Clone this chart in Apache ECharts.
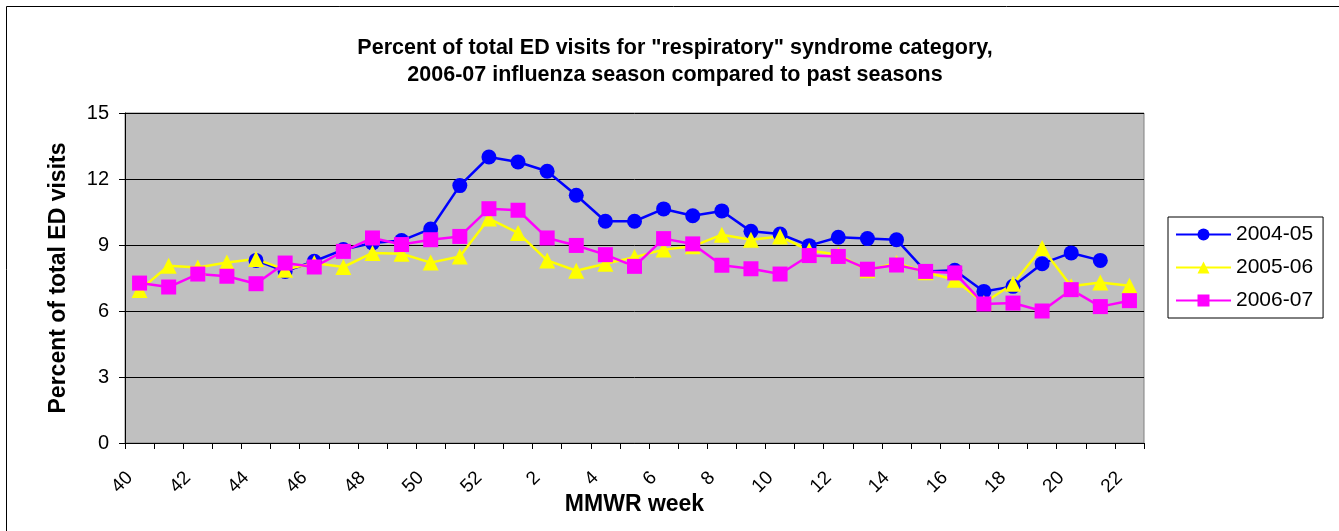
<!DOCTYPE html>
<html>
<head>
<meta charset="utf-8">
<script src="https://cdn.jsdelivr.net/npm/echarts@6/dist/echarts.min.js"></script>
<style>
  html, body { margin: 0; padding: 0; background: #fff; }
  #chart { width: 1339px; height: 531px; }
</style>
</head>
<body>
<div id="chart"></div>
<script>
// MMWR weeks, 40..52 then 1..22
const weeks = ['40','41','42','43','44','45','46','47','48','49','50','51','52',
  '1','2','3','4','5','6','7','8','9','10','11','12','13','14','15','16','17','18','19','20','21','22']

// 2004-05 not visible before week 44 or at week 22
const s0405 = [null, null, null, null, 8.3, 7.8, 8.26, 8.79, 9.09, 9.2, 9.73, 11.7, 13.0,
  12.77, 12.35, 11.26, 10.08, 10.08, 10.64, 10.33, 10.55, 9.62, 9.5, 8.97, 9.35, 9.29, 9.24,
  7.8, 7.85, 6.89, 7.12, 8.15, 8.64, 8.3, null]

const s0506 = [6.95, 8.06, 7.98, 8.2, 8.36, 7.88, 8.18, 8.0, 8.64, 8.6, 8.2, 8.48, 10.2,
  9.55, 8.3, 7.83, 8.15, 8.45, 8.79, 8.94, 9.47, 9.24, 9.39, 8.75, 8.56, 7.85, 8.18,
  7.76, 7.42, 6.36, 7.24, 8.86, 7.12, 7.3, 7.15]

const s0607 = [7.27, 7.09, 7.68, 7.58, 7.24, 8.18, 8.0, 8.71, 9.32, 9.02, 9.24, 9.39, 10.65,
  10.58, 9.32, 8.98, 8.56, 8.03, 9.29, 9.05, 8.08, 7.92, 7.68, 8.52, 8.48, 7.9, 8.09,
  7.8, 7.73, 6.32, 6.36, 6.0, 6.97, 6.2, 6.47]

const seriesNames = ['2004-05', '2005-06', '2006-07']

const font = 'Liberation Sans, Arial, sans-serif'

function lineSeries(name, data, color, symbol, size) {
  return {
    name: name,
    type: 'line',
    data: data,
    symbol: symbol,
    symbolSize: size,
    showAllSymbol: true,
    connectNulls: false,
    lineStyle: { color: color, width: 2.5 },
    itemStyle: { color: color },
    emphasis: { disabled: true },
    animation: false
  }
}

const myChart = echarts.init(document.getElementById('chart'))
myChart.setOption({
  animation: false,
  title: {
    text: 'Percent of total ED visits for "respiratory" syndrome category,\n2006-07 influenza season compared to past seasons',
    left: 675,
    top: 35,
    padding: 0,
    textAlign: 'center',
    textStyle: { fontFamily: font, fontSize: 21.5, fontWeight: 'bold', color: '#000', lineHeight: 27 }
  },
  graphic: [{
    type: 'rect',
    shape: { x: 6.5, y: 6.5, width: 1400, height: 600 },
    style: { fill: 'none', stroke: '#000', lineWidth: 1 },
    silent: true
  }],
  legend: {
    orient: 'vertical',
    left: 1168,
    top: 217,
    padding: [7, 10, 7, 7],
    itemGap: 12,
    itemWidth: 55,
    itemHeight: 15,
    backgroundColor: '#fff',
    borderColor: '#000',
    borderWidth: 1,
    borderRadius: 0,
    data: seriesNames,
    textStyle: { fontFamily: font, fontSize: 21, color: '#000', padding: [0, 0, 0, 0] }
  },
  grid: {
    left: 125,
    right: 195,
    top: 113,
    bottom: 88,
    show: true,
    backgroundColor: '#C0C0C0',
    borderColor: '#808080',
    borderWidth: 1
  },
  xAxis: {
    type: 'category',
    data: weeks,
    boundaryGap: true,
    name: 'MMWR week',
    nameLocation: 'middle',
    nameGap: 50,
    nameMoveOverlap: false,
    nameTextStyle: { fontFamily: font, fontSize: 23, fontWeight: 'bold', color: '#000' },
    axisLine: { lineStyle: { color: '#000', width: 1 } },
    axisTick: { show: true, interval: 0, length: 6, lineStyle: { color: '#000' } },
    axisLabel: {
      interval: 1,
      rotate: 45,
      margin: 22,
      padding: [0, 14, 0, 0],
      fontFamily: font,
      fontSize: 19,
      color: '#000'
    },
    splitLine: { show: false }
  },
  yAxis: {
    type: 'value',
    min: 0,
    max: 15,
    interval: 3,
    name: 'Percent of total ED visits',
    nameLocation: 'middle',
    nameGap: 55,
    nameMoveOverlap: false,
    nameTextStyle: { fontFamily: font, fontSize: 23, fontWeight: 'bold', color: '#000' },
    axisLine: { show: true, lineStyle: { color: '#000', width: 1 } },
    axisTick: { show: true, length: 6, lineStyle: { color: '#000' } },
    axisLabel: { fontFamily: font, fontSize: 20, color: '#000', margin: 16 },
    splitLine: { show: true, lineStyle: { color: '#000', width: 1 } }
  },
  series: [
    lineSeries(seriesNames[0], s0405, '#0000FF', 'circle', 15),
    lineSeries(seriesNames[1], s0506, '#FFFF00', 'triangle', 16),
    lineSeries(seriesNames[2], s0607, '#FF00FF', 'rect', 15)
  ]
})
</script>
</body>
</html>
